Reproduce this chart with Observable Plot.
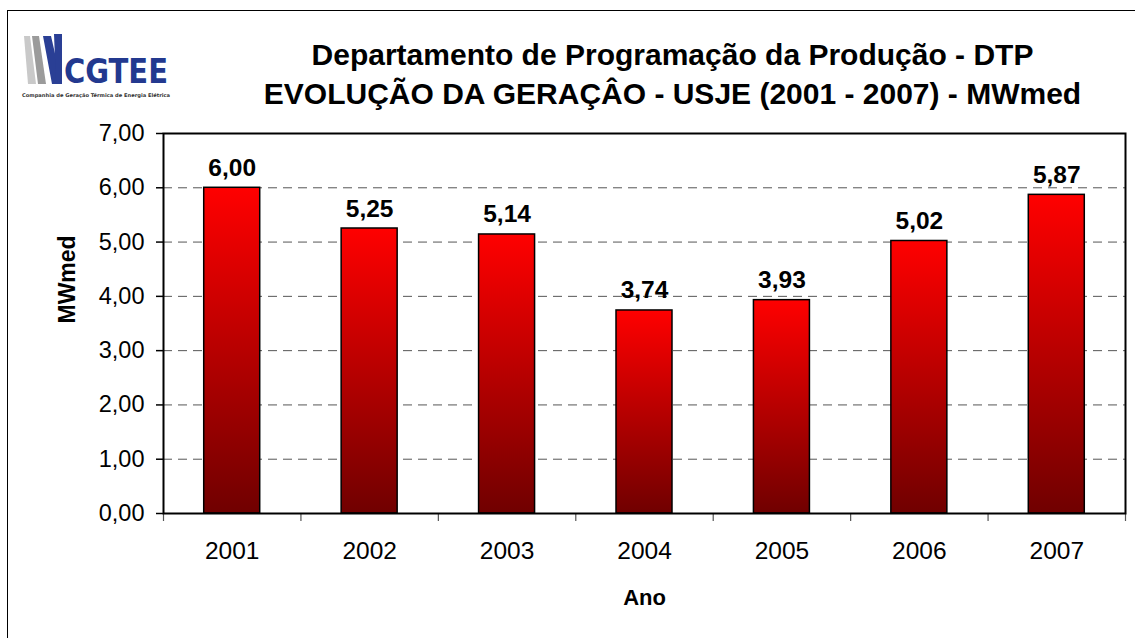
<!DOCTYPE html>
<html>
<head>
<meta charset="utf-8">
<script src="https://cdn.jsdelivr.net/npm/d3@7"></script>
<script src="https://cdn.jsdelivr.net/npm/@observablehq/plot@0.6"></script>
<style>
  html, body { margin: 0; padding: 0; background: #fff; }
  #wrap { position: relative; width: 1135px; height: 638px; overflow: hidden; }
  #border { position: absolute; left: 7px; top: 10px; width: 1140px; height: 640px; border: 1.5px solid #000; box-sizing: border-box; }
  #logo { position: absolute; left: 14px; top: 24px; overflow: visible; }
  #chart { position: absolute; left: 0; top: 0; }
</style>
</head>
<body>
<div id="wrap">
  <div id="border"></div>
  <div id="chart"></div>
  <svg id="logo" width="170" height="80" viewBox="0 0 170 80">
    <path d="M10,12 L16,12 L22,60 L14,60 Z" fill="#c9c9c9"/>
    <path d="M18,12 L25,12 L32,60 L24,60 Z" fill="#9b9b9b"/>
    <path d="M29,12 L37,12 L48,60 L38,60 Z" fill="#2a3f95"/>
    <path d="M40,10 L48,10 L48,60 L42,60 Z" fill="#2a3f95"/>
    <text x="50" y="59" font-family="'DejaVu Sans'" font-weight="bold" font-size="34" fill="#23398f" textLength="104" lengthAdjust="spacingAndGlyphs">CGTEE</text>
    <text x="8" y="73" font-family="'DejaVu Sans'" font-weight="bold" font-size="5" fill="#333" textLength="148" lengthAdjust="spacingAndGlyphs">Companhia de Geração Térmica de Energia Elétrica</text>
  </svg>
</div>
<script>
const years = ["2001", "2002", "2003", "2004", "2005", "2006", "2007"];
const values = [6.00, 5.25, 5.14, 3.74, 3.93, 5.02, 5.87];
const yTicks = [0, 1, 2, 3, 4, 5, 6, 7];
const gridTicks = [1, 2, 3, 4, 5, 6];
const titleLine1 = "Departamento de Programação da Produção - DTP";
const titleLine2 = "EVOLUÇÃO DA GERAÇÂO - USJE (2001 - 2007) - MWmed";
const xLabel = "Ano";
const yLabel = "MWmed";

const data = years.map((y, i) => ({year: y, value: values[i]}));
const fmt = v => v.toFixed(2).replace(".", ",");

const W = 1135, H = 638;
const mL = 163, mR = 10, mT = 133, mB = 125;
const step = (W - mL - mR) / years.length;
const barW = 56;
const inset = (step - barW) / 2;
const font = "'Liberation Sans', Arial, sans-serif";

const plot = Plot.plot({
  width: W,
  height: H,
  marginLeft: mL,
  marginRight: mR,
  marginTop: mT,
  marginBottom: mB,
  style: {fontFamily: font, fontSize: "23px", color: "#000", background: "transparent", overflow: "visible"},
  x: {type: "band", domain: years, padding: 0, round: false},
  y: {domain: [0, 7]},
  marks: [
    Plot.gridY(gridTicks, {stroke: "#555", strokeOpacity: 1, strokeWidth: 1, strokeDasharray: "9,6"}),
    Plot.barY(data, {x: "year", y: "value", fill: "url(#barGrad)", stroke: "#000", strokeWidth: 1.5, insetLeft: inset, insetRight: inset}),
    Plot.text(data, {x: "year", y: "value", text: d => fmt(d.value), dy: -12, lineAnchor: "bottom", fontWeight: "bold", fontSize: 24.5}),
    Plot.axisY({ticks: yTicks, tickSize: 7, tickPadding: 12, tickFormat: fmt, fontSize: 23.5, label: null, strokeWidth: 1.5}),
    Plot.axisX({ticks: years, tickSize: 8, tickFormat: () => "", label: null, dx: -step / 2, stroke: "#555", strokeWidth: 1.2}),
    Plot.axisX({ticks: years.slice(-1), tickSize: 8, tickFormat: () => "", label: null, dx: step / 2, stroke: "#555", strokeWidth: 1.2}),
    Plot.axisX({ticks: years, tickSize: 0, tickPadding: 28, fontSize: 24.5, label: null}),
    Plot.frame({stroke: "#000", strokeWidth: 2}),
    Plot.text([yLabel], {frameAnchor: "left", dx: -96, rotate: -90, text: d => d, fontWeight: "bold", fontSize: 23, lineAnchor: "middle"}),
    Plot.text([xLabel], {frameAnchor: "bottom", dy: 84, text: d => d, fontWeight: "bold", fontSize: 22, lineAnchor: "middle"}),
    Plot.text([titleLine1], {frameAnchor: "top", dx: 28, dy: -69, text: d => d, fontWeight: "bold", fontSize: 30, lineAnchor: "bottom"}),
    Plot.text([titleLine2], {frameAnchor: "top", dx: 28, dy: -30, text: d => d, fontWeight: "bold", fontSize: 30, lineAnchor: "bottom"})
  ]
});

const ns = "http://www.w3.org/2000/svg";
const defs = document.createElementNS(ns, "defs");
const grad = document.createElementNS(ns, "linearGradient");
grad.setAttribute("id", "barGrad");
grad.setAttribute("x1", "0"); grad.setAttribute("y1", "0");
grad.setAttribute("x2", "0"); grad.setAttribute("y2", "1");
[["0%", "#ff0000"], ["100%", "#700000"]].forEach(([o, c]) => {
  const s = document.createElementNS(ns, "stop");
  s.setAttribute("offset", o); s.setAttribute("stop-color", c);
  grad.appendChild(s);
});
defs.appendChild(grad);
plot.insertBefore(defs, plot.firstChild);
document.getElementById("chart").appendChild(plot);
</script>
</body>
</html>
